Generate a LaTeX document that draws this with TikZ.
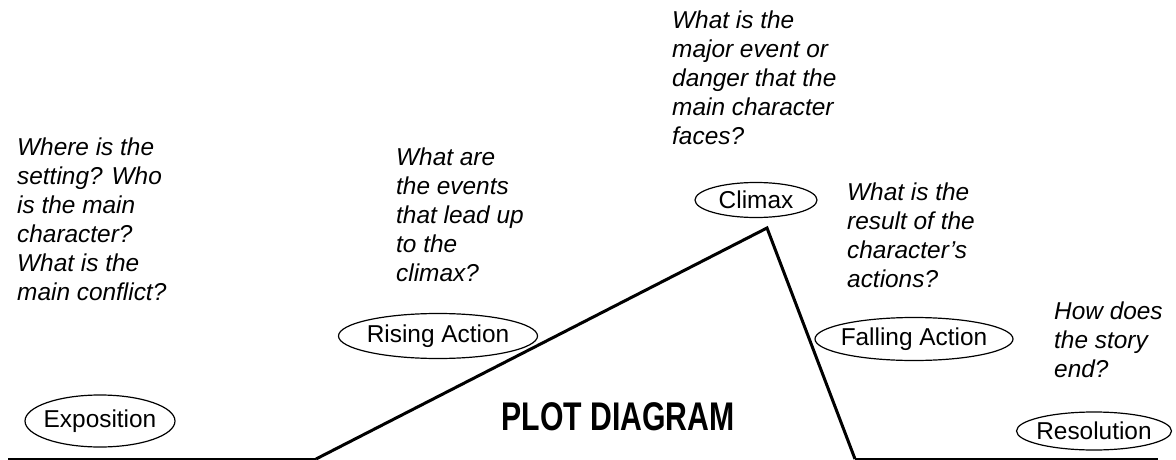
\documentclass[tikz,border=0pt]{standalone}
\usepackage{fontspec}
\setmainfont{Liberation Sans}
\usepackage{graphicx}
\usetikzlibrary{shapes.geometric}
\newcommand{\stagetext}[1]{\makebox[0pt]{#1}}
\begin{document}
\begin{tikzpicture}[x=1pt,y=-1pt,
  question/.style={anchor=base west, align=left, inner sep=0pt,
    font=\fontsize{24.4}{29}\selectfont\itshape},
  stage/.style={draw, ellipse, line width=1.2pt, inner sep=0pt,
    font=\fontsize{24.4}{29}\selectfont},
  axisline/.style={line width=1.6pt},
  plotline/.style={line width=3pt, line join=miter}]
\useasboundingbox (0,0) rectangle (1176,460);

% plot line
\coordinate (l0) at (8,459);
\coordinate (rise) at (316,459);
\coordinate (peak) at (767,228);
\coordinate (fall) at (855,459);
\coordinate (r1) at (1158,459);
\draw[axisline] (l0) -- (rise);
\draw[axisline] (fall) -- (r1);
\draw[plotline] (rise) -- (peak) -- (fall);

% stage ellipses
\node[stage, minimum width=150pt, minimum height=52pt] (expo) at (100,421) {\stagetext{Exposition}};
\node[stage, minimum width=199pt, minimum height=45pt] (rising) at (438,336) {\stagetext{Rising Action}};
\node[stage, minimum width=122pt, minimum height=35pt] (climax) at (756,200) {\stagetext{Climax}};
\node[stage, minimum width=198pt, minimum height=43pt] (falling) at (914,339) {\stagetext{Falling Action}};
\node[stage, minimum width=155pt, minimum height=38pt] (resol) at (1094,431) {\stagetext{Resolution}};

% questions (anchored at the baseline of their last line)
\node[question] (qexpo) at (17,300) {Where is the\\setting? Who\\is the main\\character?\\What is the\\main conflict?};
\node[question] (qrise) at (396,281) {What are\\the events\\that lead up\\to the\\climax?};
\node[question] (qclimax) at (672,144) {What is the\\major event or\\danger that the\\main character\\faces?};
\node[question] (qfall) at (847,287) {What is the\\result of the\\character’s\\actions?};
\node[question] (qres) at (1054,377) {How does\\the story\\end?};

% title
\node[inner sep=0pt, font=\fontsize{40}{48}\selectfont\bfseries] (title) at (618,417)
  {\scalebox{0.755}[1]{PLOT DIAGRAM}};
\end{tikzpicture}
\end{document}
